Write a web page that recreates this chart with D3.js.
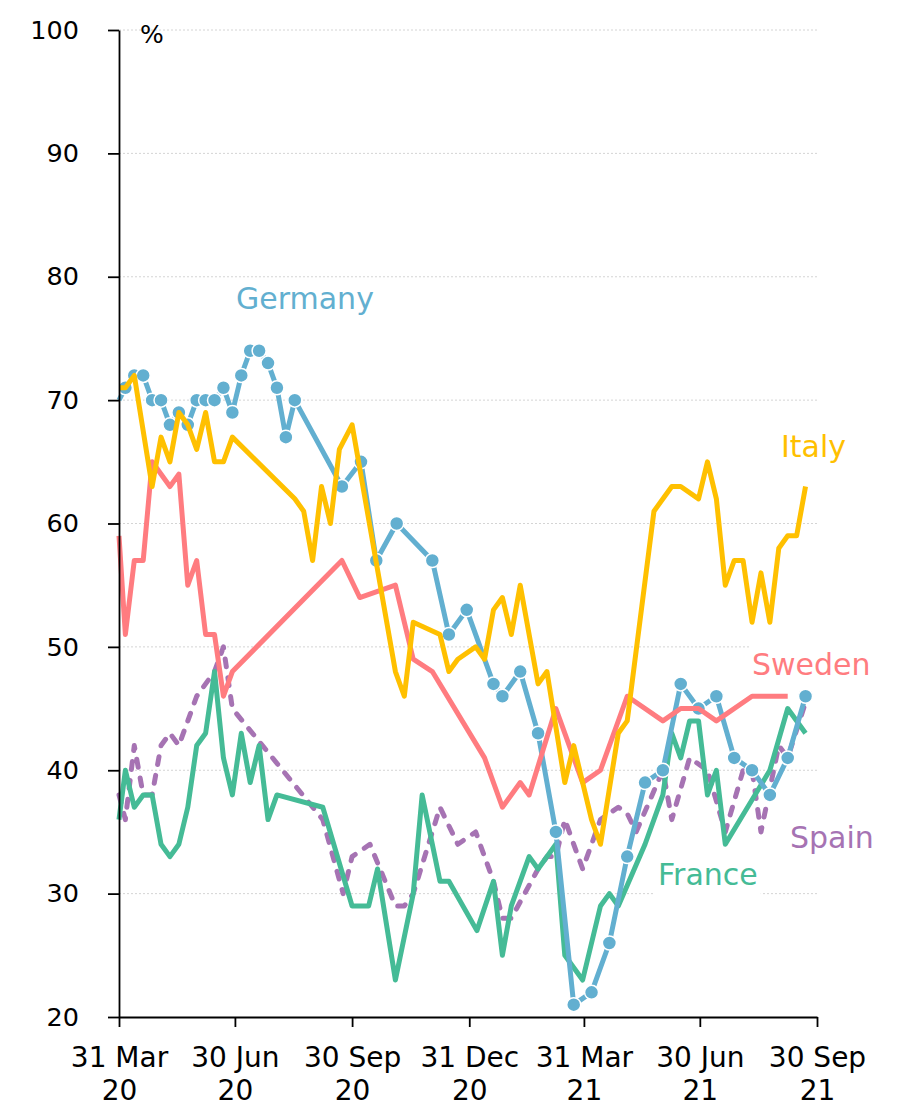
<!DOCTYPE html>
<html>
<head>
<meta charset="utf-8">
<script src="https://cdn.jsdelivr.net/npm/d3@7"></script>
<style>
  body { margin: 0; background: #fff; }
  svg { display: block; font-family: "DejaVu Sans", sans-serif; }
</style>
</head>
<body>
<svg id="chart" width="907" height="1107"></svg>
<script>
// survey share (%), readings by date
const germany = [
  ["2020-03-31",70],["2020-04-05",71],["2020-04-12",72],["2020-04-19",72],["2020-04-26",70],
  ["2020-05-03",70],["2020-05-10",68],["2020-05-17",69],["2020-05-24",68],["2020-05-31",70],
  ["2020-06-07",70],["2020-06-14",70],["2020-06-21",71],["2020-06-28",69],["2020-07-05",72],
  ["2020-07-12",74],["2020-07-19",74],["2020-07-26",73],["2020-08-02",71],["2020-08-09",67],
  ["2020-08-16",70],["2020-09-22",63],["2020-10-07",65],["2020-10-19",57],["2020-11-04",60],
  ["2020-12-02",57],["2020-12-15",51],["2020-12-29",53],["2021-01-19",47],["2021-01-26",46],
  ["2021-02-09",48],["2021-02-23",43],["2021-03-09",35],["2021-03-23",21],["2021-04-06",22],
  ["2021-04-20",26],["2021-05-04",33],["2021-05-18",39],["2021-06-01",40],["2021-06-15",47],
  ["2021-06-29",45],["2021-07-13",46],["2021-07-27",41],["2021-08-10",40],["2021-08-24",38],
  ["2021-09-07",41],["2021-09-21",46]
];
const italy = [
  ["2020-03-31",71],["2020-04-05",71],["2020-04-12",72],["2020-04-26",63],["2020-05-03",67],
  ["2020-05-10",65],["2020-05-17",69],["2020-05-24",68],["2020-05-31",66],["2020-06-07",69],
  ["2020-06-14",65],["2020-06-21",65],["2020-06-28",67],["2020-08-16",62],["2020-08-23",61],
  ["2020-08-30",57],["2020-09-06",63],["2020-09-13",60],["2020-09-20",66],["2020-09-30",68],
  ["2020-11-03",48],["2020-11-10",46],["2020-11-17",52],["2020-12-08",51],["2020-12-15",48],
  ["2020-12-22",49],["2021-01-05",50],["2021-01-12",49],["2021-01-19",53],["2021-01-26",54],
  ["2021-02-02",51],["2021-02-09",55],["2021-02-23",47],["2021-03-02",48],["2021-03-16",39],
  ["2021-03-23",42],["2021-04-06",36],["2021-04-13",34],["2021-04-27",43],["2021-05-04",44],
  ["2021-05-25",61],["2021-06-08",63],["2021-06-15",63],["2021-06-29",62],["2021-07-06",65],
  ["2021-07-13",62],["2021-07-20",55],["2021-07-27",57],["2021-08-03",57],["2021-08-10",52],
  ["2021-08-17",56],["2021-08-24",52],["2021-08-31",58],["2021-09-07",59],["2021-09-14",59],
  ["2021-09-21",63]
];
const sweden = [
  ["2020-03-31",59],["2020-04-05",51],["2020-04-12",57],["2020-04-19",57],["2020-04-26",65],
  ["2020-05-10",63],["2020-05-17",64],["2020-05-24",55],["2020-05-31",57],["2020-06-07",51],
  ["2020-06-14",51],["2020-06-21",46],["2020-06-28",48],["2020-09-22",57],["2020-10-06",54],
  ["2020-11-03",55],["2020-11-17",49],["2020-12-02",48],["2021-01-12",41],["2021-01-26",37],
  ["2021-02-09",39],["2021-02-16",38],["2021-03-09",45],["2021-03-30",39],["2021-04-13",40],
  ["2021-05-04",46],["2021-06-01",44],["2021-06-15",45],["2021-06-29",45],["2021-07-13",44],
  ["2021-08-10",46],["2021-09-07",46]
];
const france = [
  ["2020-03-31",36],["2020-04-05",40],["2020-04-12",37],["2020-04-19",38],["2020-04-26",38],
  ["2020-05-03",34],["2020-05-10",33],["2020-05-17",34],["2020-05-24",37],["2020-05-31",42],
  ["2020-06-07",43],["2020-06-14",48],["2020-06-21",41],["2020-06-28",38],["2020-07-05",43],
  ["2020-07-12",39],["2020-07-19",42],["2020-07-26",36],["2020-08-02",38],["2020-09-07",37],
  ["2020-09-30",29],["2020-10-13",29],["2020-10-20",32],["2020-11-03",23],["2020-11-17",30],
  ["2020-11-24",38],["2020-12-08",31],["2020-12-15",31],["2021-01-06",27],["2021-01-19",31],
  ["2021-01-26",25],["2021-02-02",29],["2021-02-16",33],["2021-02-23",32],["2021-03-09",34],
  ["2021-03-16",25],["2021-03-30",23],["2021-04-13",29],["2021-04-20",30],["2021-04-27",29],
  ["2021-05-18",34],["2021-06-01",38],["2021-06-08",43],["2021-06-15",41],["2021-06-22",44],
  ["2021-06-29",44],["2021-07-06",38],["2021-07-13",40],["2021-07-20",34],["2021-08-24",40],
  ["2021-09-07",45],["2021-09-21",43]
];
const spain = [
  ["2020-03-31",38],["2020-04-05",36],["2020-04-12",42],["2020-04-19",38],["2020-04-26",38],
  ["2020-05-03",42],["2020-05-10",43],["2020-05-17",42],["2020-05-31",46],["2020-06-14",48],
  ["2020-06-21",50],["2020-06-28",45],["2020-09-07",36],["2020-09-23",30],["2020-09-30",33],
  ["2020-10-14",34],["2020-11-03",29],["2020-11-10",29],["2020-11-17",30],["2020-12-08",37],
  ["2020-12-22",34],["2021-01-05",35],["2021-01-19",31],["2021-01-26",28],["2021-02-02",28],
  ["2021-02-23",32],["2021-03-02",33],["2021-03-09",33],["2021-03-16",36],["2021-03-30",32],
  ["2021-04-13",36],["2021-04-27",37],["2021-05-04",36.5],["2021-05-11",35],["2021-06-01",40],
  ["2021-06-08",36],["2021-06-22",41],["2021-07-06",40],["2021-07-20",35],["2021-08-03",40],
  ["2021-08-10",40],["2021-08-17",35],["2021-08-31",42],["2021-09-07",41],["2021-09-21",45.5]
];

const xTicks = ["2020-03-31","2020-06-30","2020-09-30","2020-12-31","2021-03-31","2021-06-30","2021-09-30"];
const xTickLabels = [["31 Mar","20"],["30 Jun","20"],["30 Sep","20"],["31 Dec","20"],["31 Mar","21"],["30 Jun","21"],["30 Sep","21"]];
const yTicks = [20,30,40,50,60,70,80,90,100];

const parse = d3.timeParse("%Y-%m-%d");

const svg = d3.select("#chart");
const margin = {left: 119, right: 817, top: 30, bottom: 1017};

const x = d3.scaleTime()
    .domain([parse("2020-03-31"), parse("2021-09-30")])
    .range([margin.left, margin.right]);
const y = d3.scaleLinear().domain([20, 100]).range([margin.bottom, margin.top]);

// gridlines
svg.append("g")
    .selectAll("line")
    .data(yTicks.slice(1))
    .join("line")
    .attr("x1", margin.left).attr("x2", margin.right)
    .attr("y1", d => y(d)).attr("y2", d => y(d))
    .attr("stroke", "#d4d4d4")
    .attr("stroke-width", 1)
    .attr("stroke-dasharray", "2,2");

// series, drawn back to front
const series = [
    {name: "Spain",   data: spain,   color: "#a673b3", dash: "8,11"},
    {name: "France",  data: france,  color: "#45bb96"},
    {name: "Germany", data: germany, color: "#62afd0", markers: true},
    {name: "Sweden",  data: sweden,  color: "#ff7c80"},
    {name: "Italy",   data: italy,   color: "#ffc000"}
];

const line = d3.line()
    .x(d => x(parse(d[0])))
    .y(d => y(d[1]));

const lines = svg.append("g");
series.forEach(s => {
    lines.append("path")
        .datum(s.data)
        .attr("fill", "none")
        .attr("stroke", s.color)
        .attr("stroke-width", 5)
        .attr("stroke-linejoin", "round")
        .attr("stroke-linecap", s.dash ? "round" : "butt")
        .attr("stroke-dasharray", s.dash || null)
        .attr("d", line);
    if (s.markers) {
        lines.append("g")
            .selectAll("circle")
            .data(s.data.slice(1))
            .join("circle")
            .attr("cx", d => x(parse(d[0])))
            .attr("cy", d => y(d[1]))
            .attr("r", 7)
            .attr("fill", s.color)
            .attr("stroke", "#fff")
            .attr("stroke-width", 1.5);
    }
});

// axes
const yAxis = svg.append("g")
    .attr("transform", `translate(${margin.left},0)`)
    .call(d3.axisLeft(y).tickValues(yTicks).tickSizeInner(11).tickSizeOuter(0).tickPadding(29));
const xAxis = svg.append("g")
    .attr("transform", `translate(0,${margin.bottom})`)
    .call(d3.axisBottom(x).tickValues(xTicks.map(parse)).tickSizeInner(10).tickSizeOuter(0).tickFormat(""));

[yAxis, xAxis].forEach(a => {
    a.select(".domain").attr("stroke", "#000").attr("stroke-width", 1.8);
    a.selectAll(".tick line").attr("stroke", "#000").attr("stroke-width", 1.8);
});
yAxis.selectAll(".tick text")
    .attr("font-family", "DejaVu Sans")
    .attr("font-size", 25.5)
    .attr("fill", "#000");

xAxis.selectAll(".tick text").remove();
xAxis.selectAll(".tick").each(function(d, i) {
    const t = d3.select(this).append("text")
        .attr("text-anchor", "middle")
        .attr("font-family", "DejaVu Sans")
        .attr("font-size", 28)
        .attr("fill", "#000");
    t.append("tspan").attr("x", 0).attr("y", 50).text(xTickLabels[i][0]);
    t.append("tspan").attr("x", 0).attr("y", 83).text(xTickLabels[i][1]);
});

svg.append("text")
    .attr("x", 140).attr("y", 43)
    .attr("font-size", 25)
    .text("%");

// series labels with white boxes
const labels = [
    {text: "Germany", x: 236, y: 309, color: "#62afd0"},
    {text: "Italy",   x: 781, y: 457, color: "#ffc000"},
    {text: "Sweden",  x: 752, y: 675, color: "#ff7c80"},
    {text: "Spain",   x: 790, y: 848, color: "#a673b3"},
    {text: "France",  x: 658, y: 885, color: "#45bb96"}
];
const lg = svg.append("g");
labels.forEach(l => {
    const g = lg.append("g");
    const rect = g.append("rect").attr("fill", "#fff");
    const t = g.append("text")
        .attr("x", l.x).attr("y", l.y)
        .attr("font-size", 30)
        .attr("fill", l.color)
        .text(l.text);
    const b = t.node().getBBox();
    rect.attr("x", b.x - 3).attr("y", b.y - 3)
        .attr("width", b.width + 6).attr("height", b.height + 6);
});
</script>
</body>
</html>
